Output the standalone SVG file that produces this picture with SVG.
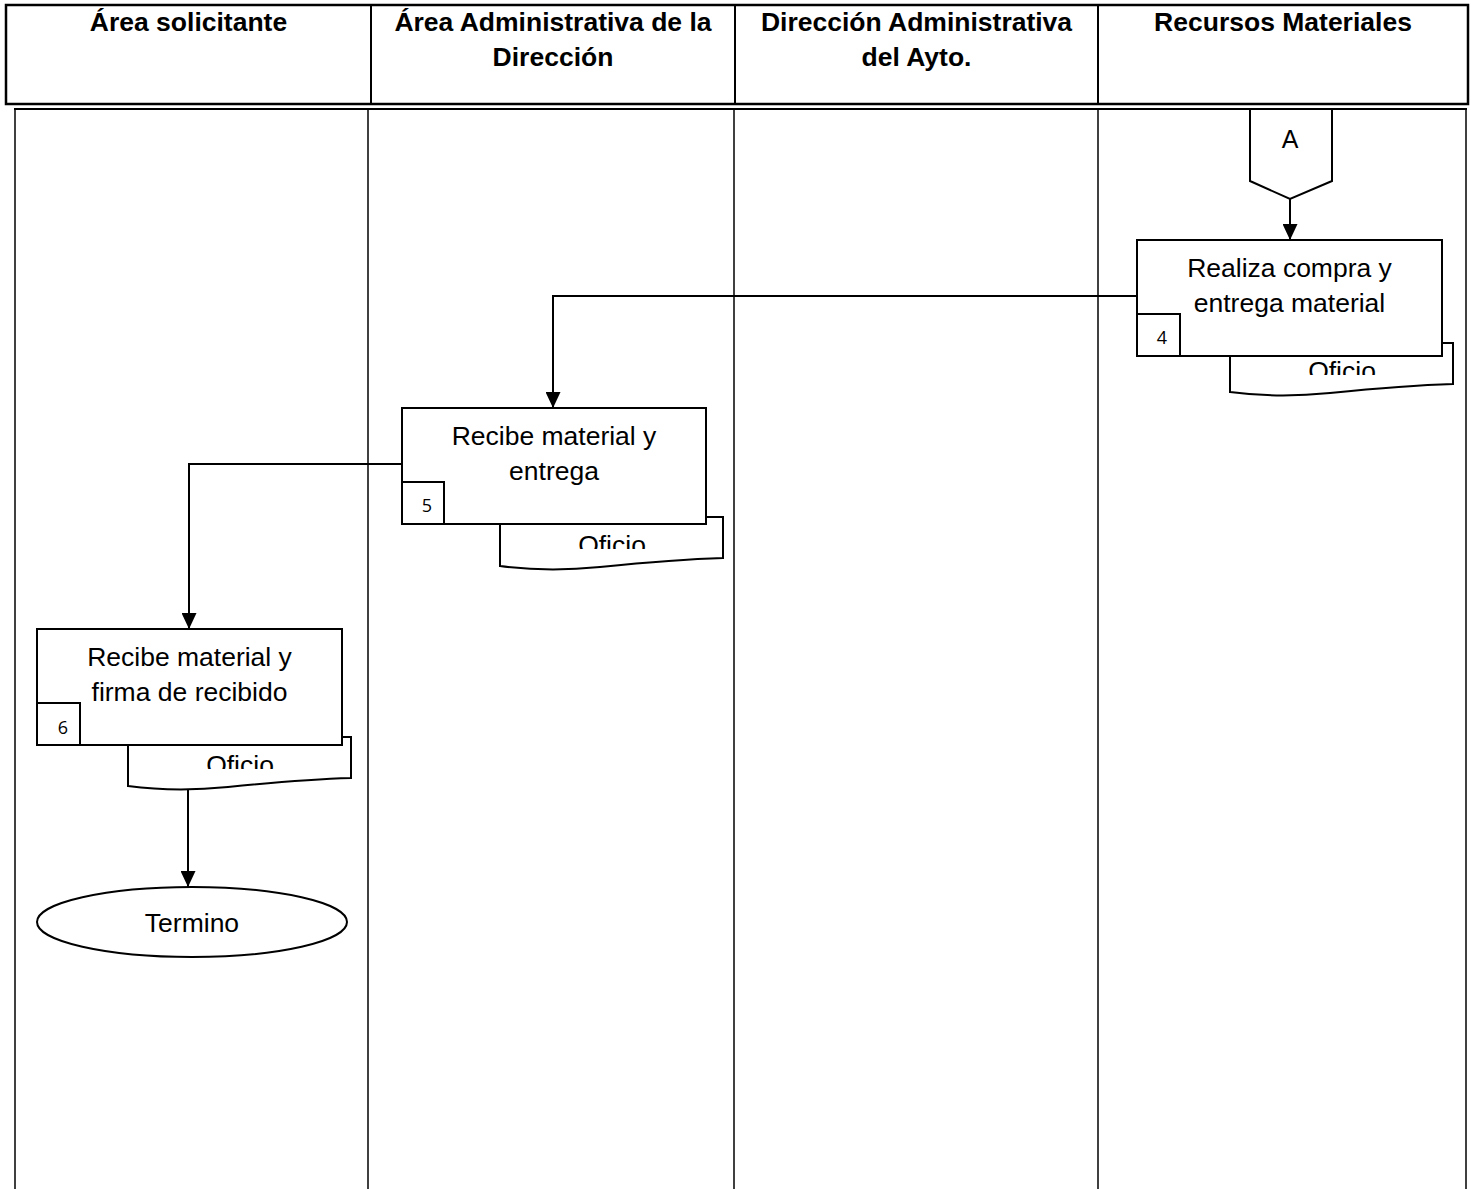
<svg xmlns="http://www.w3.org/2000/svg" width="1471" height="1189" viewBox="0 0 1471 1189">
<style>
.hdr{font-family:"Liberation Sans",Arial,sans-serif;font-weight:bold;font-size:26.5px;fill:#000;text-anchor:middle}
.txt{font-family:"Liberation Sans",Arial,sans-serif;font-size:26.5px;fill:#000;text-anchor:middle}
.num{font-family:"Open Sans","Liberation Sans",sans-serif;font-size:18px;fill:#000;text-anchor:middle}
.ln{fill:none;stroke:#000;stroke-width:1.5}
.box{fill:#fff;stroke:#000;stroke-width:2}
.con{fill:none;stroke:#000;stroke-width:2}
</style>
<defs>
<marker id="arr" viewBox="0 0 16 15" refX="16" refY="7.5" markerWidth="16" markerHeight="15" orient="auto" markerUnits="userSpaceOnUse">
<path d="M0,0 L16,7.5 L0,15 z" fill="#000"/>
</marker>
<path id="docshape" d="M0,0 H223 V41 C190,42 150,45 100,50 C60,54 30,53 0,49 Z"/>
<clipPath id="docclip"><rect x="0" y="0" width="223" height="32"/></clipPath>
</defs>
<rect width="1471" height="1189" fill="#fff"/>

<g id="header">
<rect x="6" y="5" width="1462" height="99" fill="none" stroke="#000" stroke-width="2.5"/>
<line x1="371" y1="5" x2="371" y2="104" stroke="#000" stroke-width="2"/>
<line x1="735" y1="5" x2="735" y2="104" stroke="#000" stroke-width="2"/>
<line x1="1098" y1="5" x2="1098" y2="104" stroke="#000" stroke-width="2"/>
<text class="hdr" x="188.5" y="31">Área solicitante</text>
<text class="hdr" x="553" y="31">Área Administrativa de la</text>
<text class="hdr" x="553" y="66">Dirección</text>
<text class="hdr" x="916.5" y="31">Dirección Administrativa</text>
<text class="hdr" x="916.5" y="66">del Ayto.</text>
<text class="hdr" x="1283" y="31">Recursos Materiales</text>
</g>

<g id="lanes">
<line x1="14" y1="109" x2="1467" y2="109" stroke="#000" stroke-width="2"/>
<line class="ln" x1="15" y1="109" x2="15" y2="1189"/>
<line class="ln" x1="368" y1="109" x2="368" y2="1189"/>
<line class="ln" x1="734" y1="109" x2="734" y2="1189"/>
<line class="ln" x1="1098" y1="109" x2="1098" y2="1189"/>
<line class="ln" x1="1466" y1="109" x2="1466" y2="1189"/>
</g>

<g id="connectors">
<path class="con" d="M1290,199 V240" marker-end="url(#arr)"/>
<path class="con" d="M1137,296 H553 V408" marker-end="url(#arr)"/>
<path class="con" d="M402,464 H189 V629" marker-end="url(#arr)"/>
<path class="con" d="M188,786 V887" marker-end="url(#arr)"/>
</g>

<g id="connector-A">
<path d="M1250,110 V181 L1290,199 L1332,181 V110" fill="#fff" stroke="#000" stroke-width="2"/>
<text class="txt" x="1290" y="148" style="font-size:25px">A</text>
</g>

<g id="doc4" transform="translate(1230,343)">
<use href="#docshape" fill="#fff" stroke="#000" stroke-width="2"/>
<text class="txt" x="112" y="37" clip-path="url(#docclip)">Oficio</text>
</g>
<g id="step4">
<rect class="box" x="1137" y="240" width="305" height="116"/>
<text class="txt" x="1289.5" y="277">Realiza compra y</text>
<text class="txt" x="1289.5" y="312">entrega material</text>
<rect class="box" x="1137" y="314" width="43" height="42"/>
<text class="num" x="1162" y="344">4</text>
</g>

<g id="doc5" transform="translate(500,517)">
<use href="#docshape" fill="#fff" stroke="#000" stroke-width="2"/>
<text class="txt" x="112" y="37" clip-path="url(#docclip)">Oficio</text>
</g>
<g id="step5">
<rect class="box" x="402" y="408" width="304" height="116"/>
<text class="txt" x="554" y="445">Recibe material y</text>
<text class="txt" x="554" y="480">entrega</text>
<rect class="box" x="402" y="482" width="42" height="42"/>
<text class="num" x="427" y="512">5</text>
</g>

<g id="doc6" transform="translate(128,737)">
<use href="#docshape" fill="#fff" stroke="#000" stroke-width="2"/>
<text class="txt" x="112" y="37" clip-path="url(#docclip)">Oficio</text>
</g>
<g id="step6">
<rect class="box" x="37" y="629" width="305" height="116"/>
<text class="txt" x="189.5" y="666">Recibe material y</text>
<text class="txt" x="189.5" y="701">firma de recibido</text>
<rect class="box" x="37" y="703" width="43" height="42"/>
<text class="num" x="63" y="734">6</text>
</g>

<g id="end">
<ellipse cx="192" cy="922" rx="155" ry="35" fill="#fff" stroke="#000" stroke-width="2"/>
<text class="txt" x="192" y="932">Termino</text>
</g>
</svg>
